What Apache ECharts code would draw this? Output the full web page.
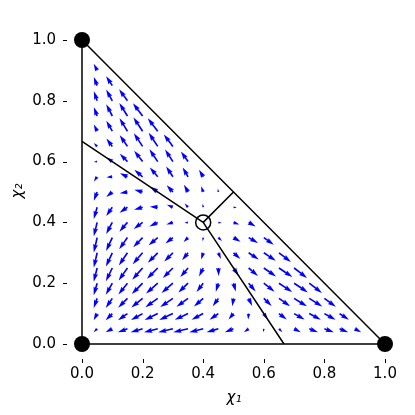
<!DOCTYPE html>
<html>
<head>
<meta charset="utf-8">
<script src="https://cdn.jsdelivr.net/npm/echarts@6/dist/echarts.min.js"></script>
<style>
  html, body { margin: 0; padding: 0; background: #ffffff; }
  #chart { width: 415px; height: 415px; }
</style>
</head>
<body>
<div id="chart"></div>
<script>
// ---- data ----
// arrow tail positions (columns / rows of the vector field)
const arrowX = [0.05, 0.10, 0.15, 0.20, 0.25, 0.30, 0.35, 0.40, 0.45, 0.50,
                0.55, 0.60, 0.65, 0.70, 0.75, 0.80, 0.85, 0.90];
const arrowY = [0.05, 0.10, 0.15, 0.20, 0.25, 0.30, 0.35, 0.40, 0.45, 0.50,
                0.55, 0.60, 0.65, 0.70, 0.75, 0.80, 0.85, 0.90];

// horizontal components, one list per row (row k uses arrowY[k], entries follow arrowX)
const fieldU = [
  [-0.049,-0.093,-0.133,-0.166,-0.190,-0.204,-0.205,-0.192,-0.163,-0.120,-0.066,-0.007,0.048,0.094,0.122,0.131,0.120,0.091],
  [-0.048,-0.092,-0.131,-0.161,-0.182,-0.190,-0.184,-0.161,-0.122,-0.069,-0.007,0.055,0.108,0.145,0.161,0.155,0.130],
  [-0.048,-0.091,-0.128,-0.156,-0.172,-0.175,-0.160,-0.128,-0.078,-0.017,0.049,0.109,0.155,0.179,0.180,0.159],
  [-0.048,-0.090,-0.125,-0.150,-0.162,-0.157,-0.134,-0.092,-0.035,0.032,0.097,0.150,0.183,0.191,0.176],
  [-0.048,-0.089,-0.122,-0.144,-0.150,-0.139,-0.107,-0.058,0.005,0.071,0.130,0.170,0.187,0.179],
  [-0.047,-0.088,-0.119,-0.137,-0.138,-0.120,-0.082,-0.028,0.035,0.095,0.141,0.166,0.166],
  [-0.047,-0.086,-0.115,-0.130,-0.126,-0.103,-0.062,-0.007,0.050,0.099,0.130,0.139],
  [-0.047,-0.085,-0.112,-0.123,-0.116,-0.091,-0.049,0.000,0.047,0.081,0.097],
  [-0.047,-0.084,-0.109,-0.118,-0.110,-0.084,-0.048,-0.007,0.027,0.046],
  [-0.046,-0.083,-0.107,-0.115,-0.107,-0.086,-0.057,-0.028,-0.007],
  [-0.046,-0.082,-0.105,-0.114,-0.110,-0.094,-0.075,-0.058],
  [-0.046,-0.082,-0.106,-0.117,-0.116,-0.109,-0.099],
  [-0.046,-0.082,-0.107,-0.121,-0.126,-0.126],
  [-0.046,-0.083,-0.110,-0.127,-0.138],
  [-0.046,-0.084,-0.113,-0.134],
  [-0.046,-0.085,-0.116],
  [-0.047,-0.086],
  [-0.047]
];
// vertical components, same layout
const fieldV = [
  [-0.049,-0.048,-0.048,-0.048,-0.048,-0.047,-0.047,-0.047,-0.047,-0.046,-0.046,-0.046,-0.046,-0.046,-0.046,-0.046,-0.047,-0.047],
  [-0.093,-0.092,-0.091,-0.090,-0.089,-0.088,-0.086,-0.085,-0.084,-0.083,-0.082,-0.082,-0.082,-0.083,-0.084,-0.085,-0.086],
  [-0.133,-0.131,-0.128,-0.125,-0.122,-0.119,-0.115,-0.112,-0.109,-0.107,-0.105,-0.106,-0.107,-0.110,-0.113,-0.116],
  [-0.166,-0.161,-0.156,-0.150,-0.144,-0.137,-0.130,-0.123,-0.118,-0.115,-0.114,-0.117,-0.121,-0.127,-0.134],
  [-0.190,-0.182,-0.172,-0.162,-0.150,-0.138,-0.126,-0.116,-0.110,-0.107,-0.110,-0.116,-0.126,-0.138],
  [-0.204,-0.190,-0.175,-0.157,-0.139,-0.120,-0.103,-0.091,-0.084,-0.086,-0.094,-0.109,-0.126],
  [-0.205,-0.184,-0.160,-0.134,-0.107,-0.082,-0.062,-0.049,-0.048,-0.057,-0.075,-0.099],
  [-0.192,-0.161,-0.128,-0.092,-0.058,-0.028,-0.007,0.000,-0.007,-0.028,-0.058],
  [-0.163,-0.122,-0.078,-0.035,0.005,0.035,0.050,0.047,0.027,-0.007],
  [-0.120,-0.069,-0.017,0.032,0.071,0.095,0.099,0.081,0.046],
  [-0.066,-0.007,0.049,0.097,0.130,0.141,0.130,0.097],
  [-0.007,0.055,0.109,0.150,0.170,0.166,0.139],
  [0.048,0.108,0.155,0.183,0.187,0.166],
  [0.094,0.145,0.179,0.191,0.179],
  [0.122,0.161,0.180,0.176],
  [0.131,0.155,0.159],
  [0.120,0.130],
  [0.091]
];

// simplex outline, boundary lines, vertices and interior rest point
const simplexEdge = [[0, 1], [0, 0], [1, 0], [0, 1]];
const boundaryA = [[0, 2 / 3], [0.4, 0.4], [2 / 3, 0]];
const boundaryB = [[0.4, 0.4], [0.5, 0.5]];
const vertices = [[0, 0], [1, 0], [0, 1]];
const restPoint = [[0.4, 0.4]];
const tickValues = [0.0, 0.2, 0.4, 0.6, 0.8, 1.0];
const xLabel = 'χ₁';
const yLabel = 'χ₂';

// ---- build arrow items from the arrays ----
const arrows = [];
fieldU.forEach(function (row, r) {
  row.forEach(function (u, c) {
    arrows.push([arrowX[c], arrowY[r], u, fieldV[r][c]]);
  });
});

const ARROW_SCALE = 0.238;    // axis units per unit of the field
const W = 1.65;               // shaft width (px)
const AXIS_GAP = 15;          // detached (hidden) spines, px
const TICK_LEN = 4;

function renderArrow(params, api) {
  const x = api.value(0), y = api.value(1), u = api.value(2), v = api.value(3);
  const p0 = api.coord([x, y]);
  const p1 = api.coord([x + u * ARROW_SCALE, y + v * ARROW_SCALE]);
  const dx = p1[0] - p0[0], dy = p1[1] - p0[1];
  const L = Math.sqrt(dx * dx + dy * dy);
  if (L < W) return null;
  const c = dx / L, s = dy / L;
  const h = W / 2, H = 1.5 * W, hl = 5 * W, ha = 4.5 * W;
  let loc;
  if (L >= hl) {
    loc = [[0, h], [L - ha, h], [L - hl, H], [L, 0], [L - hl, -H], [L - ha, -h], [0, -h]];
  } else {
    const k = L / hl;
    loc = [[0, h], [hl - ha, h], [0, H], [hl, 0], [0, -H], [hl - ha, -h], [0, -h]]
      .map(function (p) { return [p[0] * k, p[1] * k]; });
  }
  const pts = loc.map(function (p) {
    return [p0[0] + p[0] * c - p[1] * s, p0[1] + p[0] * s + p[1] * c];
  });
  return { type: 'polygon', shape: { points: pts }, style: { fill: '#0000ff' } };
}

// tick marks on the detached axes, placed through the axis scales
function renderTicks(params, api) {
  const v = api.value(0);
  const px = api.coord([v, 0]);
  const py = api.coord([0, v]);
  const xs = params.coordSys.x;
  const yb = params.coordSys.y + params.coordSys.height;
  const st = { stroke: '#000', lineWidth: 1 };
  return {
    type: 'group',
    children: [
      { type: 'line', shape: { x1: Math.round(px[0]) + 0.5, y1: yb + AXIS_GAP, x2: Math.round(px[0]) + 0.5, y2: yb + AXIS_GAP + TICK_LEN }, style: st },
      { type: 'line', shape: { x1: xs - AXIS_GAP, y1: Math.round(py[1]) + 0.5, x2: xs - AXIS_GAP - TICK_LEN, y2: Math.round(py[1]) + 0.5 }, style: st }
    ]
  };
}

const chart = echarts.init(document.getElementById('chart'), null, { renderer: 'canvas' });
const font = 'DejaVu Sans';

function axisCfg(margin) {
  return {
    type: 'value', min: 0, max: 1, interval: 0.2, offset: AXIS_GAP,
    axisLine: { show: false },
    axisTick: { show: false },
    axisLabel: { color: '#000', fontFamily: font, fontSize: 15, margin: margin,
                 formatter: function (val) { return val.toFixed(1); } },
    splitLine: { show: false }
  };
}

chart.setOption({
  animation: false,
  backgroundColor: '#ffffff',
  grid: { left: 82, right: 30, top: 40, bottom: 71 },
  xAxis: axisCfg(8),
  yAxis: axisCfg(11),
  graphic: [
    { type: 'text', x: 234, y: 398,
      style: { text: xLabel, fill: '#000', font: 'italic 15px "DejaVu Sans"',
               textAlign: 'center', textVerticalAlign: 'middle' } },
    { type: 'text', x: 18, y: 191, rotation: Math.PI / 2,
      style: { text: yLabel, fill: '#000', font: 'italic 15px "DejaVu Sans"',
               textAlign: 'center', textVerticalAlign: 'middle' } }
  ],
  series: [
    { type: 'custom', name: 'ticks', data: tickValues.map(function (t) { return [t]; }),
      renderItem: renderTicks, clip: false, z: 1, silent: true },
    { type: 'custom', name: 'field', data: arrows, renderItem: renderArrow,
      clip: false, z: 2, silent: true },
    { type: 'line', data: simplexEdge, symbol: 'none', clip: false, z: 3,
      lineStyle: { color: '#000', width: 1.5 } },
    { type: 'line', data: boundaryA, symbol: 'none', clip: false, z: 3,
      lineStyle: { color: '#000', width: 1.5 } },
    { type: 'line', data: boundaryB, symbol: 'none', clip: false, z: 3,
      lineStyle: { color: '#000', width: 1.5 } },
    { type: 'scatter', data: vertices, symbol: 'circle', symbolSize: 16, clip: false, z: 4,
      itemStyle: { color: '#000', opacity: 1 } },
    { type: 'scatter', data: restPoint, symbol: 'circle', symbolSize: 15, clip: false, z: 4,
      itemStyle: { color: 'rgba(0,0,0,0)', borderColor: '#000', borderWidth: 1.5, opacity: 1 } }
  ]
});
</script>
</body>
</html>
